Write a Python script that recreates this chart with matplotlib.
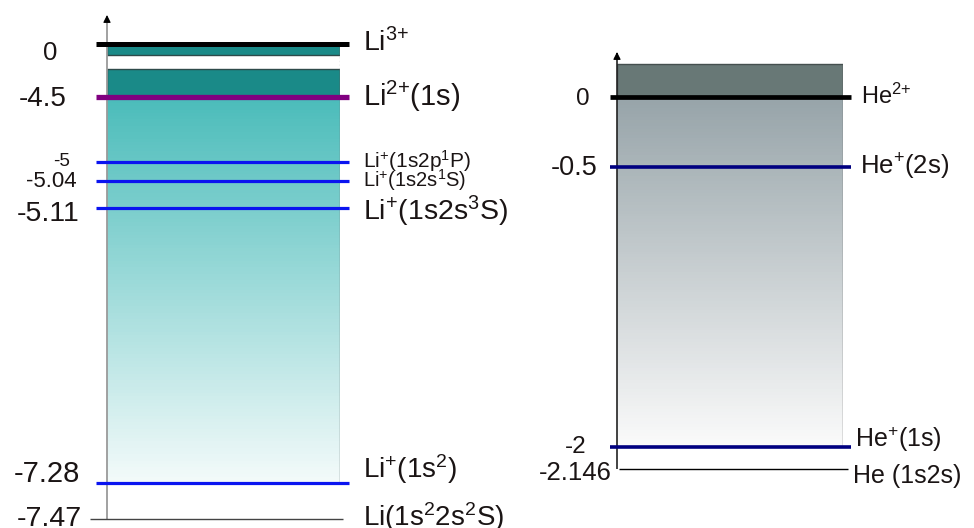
import numpy as np
import matplotlib
matplotlib.use('Agg')
import matplotlib.pyplot as plt
from matplotlib.colors import LinearSegmentedColormap

plt.rcParams['font.family'] = ['Liberation Sans', 'DejaVu Sans']
plt.rcParams['mathtext.fontset'] = 'custom'
plt.rcParams['mathtext.rm'] = 'Liberation Sans'
plt.rcParams['mathtext.it'] = 'Liberation Sans'
plt.rcParams['mathtext.default'] = 'regular'

# Li energy levels (left diagram)
li_levels = [0, -4.5, -5, -5.04, -5.11, -7.28, -7.47]
li_ticks = ['0', '-4.5', '-5', '-5.04', '-5.11', '-7.28', '-7.47']
li_names = ['Li$^{3{+}}$', 'Li$^{2{+}}$(1s)', 'Li$^{+}$(1s2p$^{1}$P)', 'Li$^{+}$(1s2s$^{1}$S)',
            'Li$^{+}$(1s2s$^{3}$S)', 'Li$^{+}$(1s$^{2}$)', 'Li(1s$^{2}$2s$^{2}$S)']
li_gap = (-2.12, -0.96)   # white break in the dark continuum band

# He energy levels (right diagram)
he_levels = [0, -0.5, -2, -2.146]
he_ticks = ['0', '-0.5', '-2', '-2.146']
he_names = ['He$^{2{+}}$', 'He$^{+}$(2s)', 'He$^{+}$(1s)', 'He (1s2s)']

W, H = 974, 528

# schematic (not to scale) axes: value -> pixel row from top
li_anchor_vals = [1.0, 0, -4.5, -5, -5.04, -5.11, -7.28, -7.47, -7.516]
li_anchor_rows = [0, 44.3, 96.7, 161.7, 181, 208.3, 483.3, 519.3, 528]
he_anchor_vals = [0.69, 0, -0.5, -2, -2.146, -2.536]
he_anchor_rows = [0, 96.7, 166.7, 447.3, 469.3, 528]


def schematic_scale(ax, vals, rows):
    v = np.asarray(vals, float)[::-1]
    h = H - np.asarray(rows, float)[::-1]
    fwd = lambda y: np.interp(y, v, h)
    inv = lambda p: np.interp(p, h, v)
    ax.set_yscale('function', functions=(fwd, inv))
    ax.set_ylim(vals[-1], vals[0])
    ax.set_xlim(0, 1)
    ax.axis('off')
    return fwd, inv


def gradient(ax, fwd, inv, top, bottom, c0, c1, n=120):
    edges = inv(np.linspace(fwd(top), fwd(bottom), n + 1))
    cmap = LinearSegmentedColormap.from_list('g', [c0, c1])
    C = np.linspace(0, 1, n)[:, None]
    ax.pcolormesh([0, 1], edges, C, cmap=cmap, shading='flat', zorder=1)


def label(ax, x, y, text, dx, dy, size, ha):
    ax.annotate(text, xy=(x, y), xytext=(dx, -dy), textcoords='offset pixels',
                ha=ha, va='baseline', fontsize=size, color='#1a1414',
                annotation_clip=False)


fig = plt.figure(figsize=(W / 100, H / 100), dpi=100)

# ---------------- Li ----------------
ax = fig.add_axes([107 / W, 0, 233 / W, 1])
fwd, inv = schematic_scale(ax, li_anchor_vals, li_anchor_rows)

ax.axhspan(li_gap[1], li_levels[0], facecolor='#1a8a88', edgecolor='#2e4a4a', lw=1, zorder=1)
ax.axhspan(li_levels[1], li_gap[0], facecolor='#1a8a88', edgecolor='#2e4a4a', lw=1, zorder=1)
gradient(ax, fwd, inv, li_levels[1], li_levels[5], '#4bbcba', '#f3fafa')

arrow_tip = inv(H - 15)
ax.vlines(0, li_levels[-1], arrow_tip - 0.05, color='#9a9a9a', lw=1.3, zorder=2, clip_on=False)
ax.annotate('', xy=(0, arrow_tip), xytext=(0, arrow_tip - 0.12),
            arrowprops=dict(arrowstyle='-|>', color='black', lw=0.8,
                            mutation_scale=11, shrinkA=0, shrinkB=0))
ax.vlines(1, li_gap[1], li_levels[0], color='#6f7f7f', lw=1, zorder=2)
ax.vlines(1, li_levels[5], li_gap[0], color='#6f7f7f', lw=1, zorder=2)
ax.vlines(1, li_gap[0], li_gap[1], color='#bbbbbb', lw=1, ls=':', zorder=2)

li_style = [  # color, lw, x0, x1
    ('black', 3.6, -0.047, 1.039),
    ('#800080', 3.8, -0.047, 1.039),
    ('#0a14f0', 2.3, -0.047, 1.039),
    ('#0a14f0', 2.3, -0.047, 1.039),
    ('#0a14f0', 2.3, -0.047, 1.039),
    ('#0a14f0', 2.3, -0.047, 1.039),
    ('#444444', 1.0, -0.073, 1.013),
]
for y, (c, lw, x0, x1) in zip(li_levels, li_style):
    ax.hlines(y, x0, x1, color=c, lw=lw, zorder=3, clip_on=False)

li_tick_fmt = [(-50, 15.7, 18.5), (-40, 9.3, 20), (-37, 4, 13.5), (-30, 6.2, 16),
               (-27, 12.4, 20.5), (-27, -1.6, 21), (-25, 6.5, 20.5)]
for y, t, (dx, dy, s) in zip(li_levels, li_ticks, li_tick_fmt):
    label(ax, 0, y, t, dx, dy, s, 'right')

li_name_fmt = [(23, 7.4, 20.5), (23, 9.3, 21), (23, 5.8, 15), (23, 6.2, 14.5),
               (23, 12.4, 20.5), (23, -5.6, 20), (23, 7.2, 20)]
for y, t, (dx, dy, s) in zip(li_levels, li_names, li_name_fmt):
    label(ax, 1, y, t, dx, dy, s, 'left')

# ---------------- He ----------------
ax2 = fig.add_axes([617 / W, 0, 226 / W, 1])
fwd2, inv2 = schematic_scale(ax2, he_anchor_vals, he_anchor_rows)

box_top = inv2(H - 64)
ax2.axhspan(he_levels[0], box_top, facecolor='#687876', edgecolor='#454f4f', lw=1, zorder=1)
gradient(ax2, fwd2, inv2, he_levels[0], he_levels[2], '#97a4a9', '#fafafa')
ax2.vlines(1, he_levels[2], box_top, color='#6a6a6a', lw=1, zorder=2)

tip2 = inv2(H - 52)
ax2.vlines(0, he_levels[-1], tip2 - 0.01, color='#222222', lw=1.2, zorder=2, clip_on=False)
ax2.annotate('', xy=(0, tip2), xytext=(0, tip2 - 0.04),
             arrowprops=dict(arrowstyle='-|>', color='black', lw=0.8,
                             mutation_scale=11, shrinkA=0, shrinkB=0))

he_style = [
    ('black', 3.4, -0.031, 1.035),
    ('#000080', 2.6, -0.031, 1.035),
    ('#000080', 2.6, -0.031, 1.035),
    ('black', 1.0, 0.009, 1.022),
]
for y, (c, lw, x0, x1) in zip(he_levels, he_style):
    ax2.hlines(y, x0, x1, color=c, lw=lw, zorder=3, clip_on=False)

he_tick_fmt = [(-27, 8.3, 17.5), (-20, 8.3, 19.5), (-30, 6, 17.5), (-5, 10.7, 18.5)]
for y, t, (dx, dy, s) in zip(he_levels, he_ticks, he_tick_fmt):
    label(ax2, 0, y, t, dx, dy, s, 'right')

he_name_fmt = [(18, 7.6, 17), (17, 8.3, 18.5), (12, -0.6, 18), (10, 14, 18)]
for y, t, (dx, dy, s) in zip(he_levels, he_names, he_name_fmt):
    label(ax2, 1, y, t, dx, dy, s, 'left')

fig.savefig('out.png', dpi=100, facecolor='white')
